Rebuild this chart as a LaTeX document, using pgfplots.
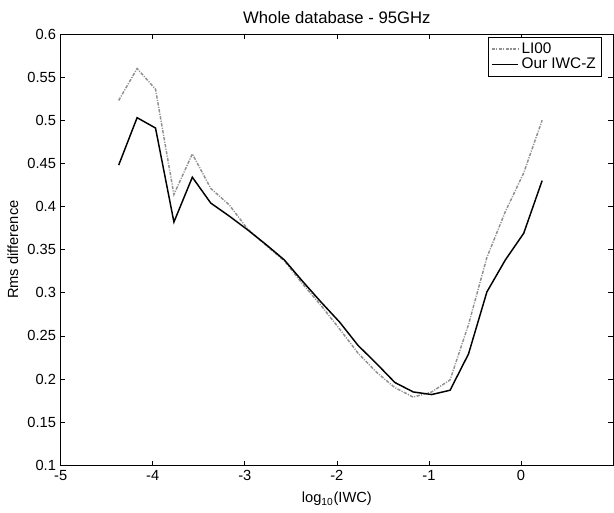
\documentclass[border=0pt]{standalone}
\usepackage{fontspec}
\setmainfont{Liberation Sans}
\usepackage{pgfplots}
\pgfplotsset{compat=1.18}
\definecolor{liline}{RGB}{145,145,145}

% bin centres of log10(IWC), step 0.2
\pgfplotstableread{
x      li     our
-4.37  0.523  0.448
-4.17  0.560  0.503
-3.97  0.536  0.491
-3.77  0.414  0.382
-3.57  0.461  0.434
-3.37  0.421  0.404
-3.17  0.402  0.389
-2.97  0.374  0.373
-2.77  0.355  0.356
-2.57  0.337  0.338
-2.37  0.310  0.313
-2.17  0.285  0.289
-1.97  0.258  0.266
-1.77  0.230  0.239
-1.57  0.208  0.218
-1.37  0.190  0.196
-1.17  0.179  0.185
-0.97  0.185  0.182
-0.77  0.199  0.187
-0.57  0.263  0.229
-0.37  0.341  0.301
-0.17  0.394  0.338
 0.03  0.439  0.369
 0.23  0.500  0.430
}\rms

\begin{document}
\begin{tikzpicture}
\begin{axis}[
    scale only axis,
    width=414pt, height=323.25pt,
    xmin=-5, xmax=1,
    ymin=0.1, ymax=0.6,
    xtick={-5,-4,-3,-2,-1,0,1},
    xticklabels={-5,-4,-3,-2,-1,0,{}},
    ytick={0.1,0.15,0.2,0.25,0.3,0.35,0.4,0.45,0.5,0.55,0.6},
    yticklabels={0.1,0.15,0.2,0.25,0.3,0.35,0.4,0.45,0.5,0.55,0.6},
    tick align=inside,
    major tick length=3.5pt,
    every tick/.style={black, line width=0.5pt},
    axis line style={line width=0.6pt},
    font=\fontsize{11}{13}\selectfont,
    ticklabel style={font=\fontsize{11}{13}\selectfont},
    title={Whole database - 95GHz},
    title style={font=\fontsize{12.5}{15}\selectfont, yshift=-2pt},
    xlabel={log\textsubscript{10}(IWC)},
    xlabel style={yshift=-2pt},
    ylabel={Rms difference},
    legend style={at={(0.979,0.993)}, anchor=north east, draw=black,
        line width=0.5pt, font=\fontsize{11.5}{13}\selectfont,
        row sep=-2pt, inner sep=2pt},
    legend cell align=left,
    legend image code/.code={
        \draw[#1] (0cm,0cm) -- (0.7cm,0cm);},
]
\addplot[liline, line width=1.1pt,
    dash pattern=on 2.5pt off 1pt on 0.8pt off 1pt] table[x=x, y=li] {\rms};
\addlegendentry{LI00}
\addplot[black, line width=1.1pt] table[x=x, y=our] {\rms};
\addlegendentry{Our IWC-Z}
\end{axis}
\pgfresetboundingbox
\path ([shift={(-45.5pt,-35.25pt)}]current axis.south west)
    rectangle ([shift={(0.75pt,25.5pt)}]current axis.north east);
\end{tikzpicture}
\end{document}
